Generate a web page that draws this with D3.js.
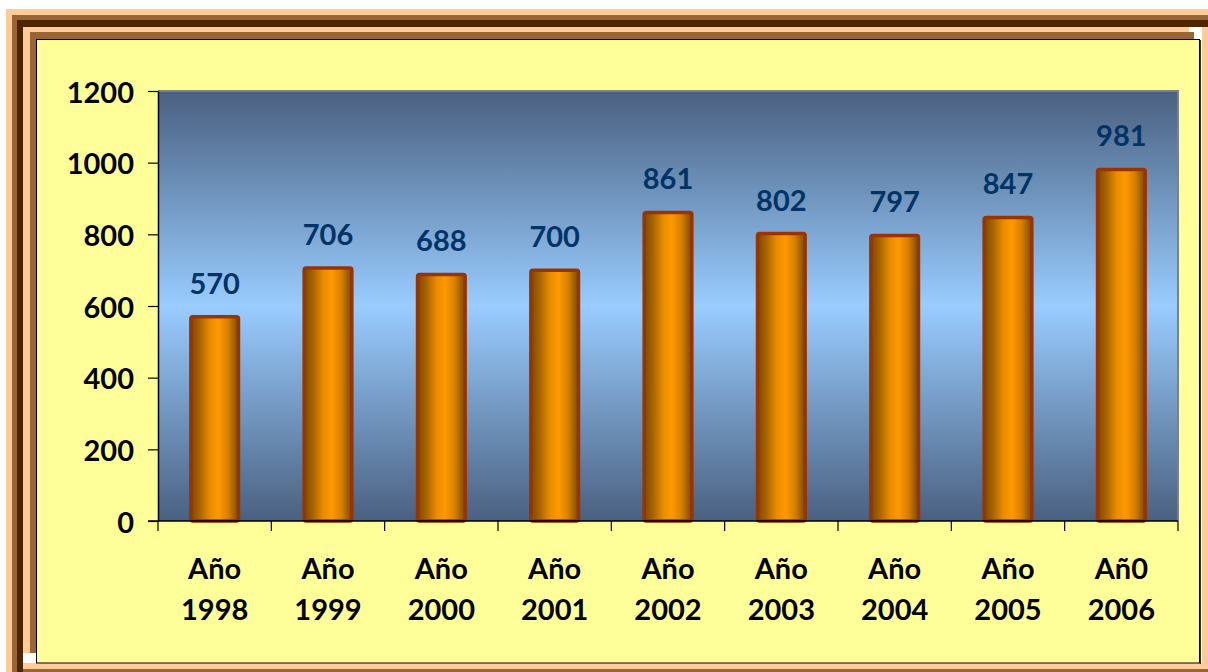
<!DOCTYPE html>
<html>
<head>
<meta charset="utf-8">
<script src="https://cdn.jsdelivr.net/npm/d3@7"></script>
<style>
  html, body { margin: 0; padding: 0; background: #ffffff; }
  svg { display: block; }
  text { font-family: Lato, "DejaVu Sans", sans-serif; font-weight: bold; }
</style>
</head>
<body>
<svg id="chart" width="1208" height="672"></svg>
<script>
// data
const prefixes = ["Año", "Año", "Año", "Año", "Año", "Año", "Año", "Año", "Añ0"];
const years = ["1998", "1999", "2000", "2001", "2002", "2003", "2004", "2005", "2006"];
const values = [570, 706, 688, 700, 861, 802, 797, 847, 981];
const yTicks = [0, 200, 400, 600, 800, 1000, 1200];

const svg = d3.select("#chart");
const W = 1208, H = 672;

// ---- frame (chart area border) ----
const frame = svg.append("g").attr("class", "frame");
frame.append("rect").attr("x", 6).attr("y", 9).attr("width", W - 6).attr("height", H - 9).attr("fill", "#FFCC99");
frame.append("rect").attr("x", 12).attr("y", 15).attr("width", W - 12).attr("height", H - 15).attr("fill", "#996633");
frame.append("rect").attr("x", 17).attr("y", 20).attr("width", W - 17).attr("height", H - 20).attr("fill", "#4D2600");
frame.append("rect").attr("x", 23).attr("y", 27).attr("width", W - 23).attr("height", H - 27).attr("fill", "#ffffff");
// shadow bands on right / bottom
frame.append("rect").attr("x", 1202).attr("y", 27).attr("width", 6).attr("height", H - 27).attr("fill", "#FFCC99");
frame.append("rect").attr("x", 23).attr("y", 663).attr("width", W - 23).attr("height", 9).attr("fill", "#FFCC99");
frame.append("rect").attr("x", 23).attr("y", 669).attr("width", W - 23).attr("height", 3).attr("fill", "#996633");
// inner bands top / left
frame.append("rect").attr("x", 23).attr("y", 27).attr("width", 1166).attr("height", 626).attr("fill", "#FFCC99");
frame.append("rect").attr("x", 30).attr("y", 32).attr("width", 1164).attr("height", 621).attr("fill", "#996633");
// yellow chart area
frame.append("rect").attr("x", 36.5).attr("y", 39.5).attr("width", 1163).attr("height", 623.5)
    .attr("fill", "#FFFF99").attr("stroke", "#000").attr("stroke-width", 1);
frame.append("line").attr("x1", 1200.5).attr("x2", 1200.5).attr("y1", 40).attr("y2", 664)
    .attr("stroke", "#333").attr("stroke-width", 1);

// ---- plot ----
const plot = {left: 158, right: 1178, top: 91, bottom: 521};

const x = d3.scaleBand()
    .domain(years)
    .range([plot.left, plot.right])
    .paddingInner(0.58)
    .paddingOuter(0.29);

const xOuter = d3.scaleBand()
    .domain(years)
    .range([plot.left, plot.right]);

const y = d3.scaleLinear()
    .domain([0, 1200])
    .range([plot.bottom, plot.top]);

const defs = svg.append("defs");

const bg = defs.append("linearGradient").attr("id", "plot-bg")
    .attr("x1", 0).attr("y1", 0).attr("x2", 0).attr("y2", 1);
bg.append("stop").attr("offset", "0%").attr("stop-color", "#4A6080");
bg.append("stop").attr("offset", "50%").attr("stop-color", "#99CCFF");
bg.append("stop").attr("offset", "100%").attr("stop-color", "#4A6080");

const barGrad = defs.append("linearGradient").attr("id", "bar-fill")
    .attr("x1", 0).attr("y1", 0).attr("x2", 1).attr("y2", 0);
barGrad.append("stop").attr("offset", "0%").attr("stop-color", "#7A4A00");
barGrad.append("stop").attr("offset", "18%").attr("stop-color", "#A86200");
barGrad.append("stop").attr("offset", "40%").attr("stop-color", "#E88C00");
barGrad.append("stop").attr("offset", "58%").attr("stop-color", "#FF9900");
barGrad.append("stop").attr("offset", "78%").attr("stop-color", "#D88000");
barGrad.append("stop").attr("offset", "100%").attr("stop-color", "#7A4A00");

svg.append("rect")
    .attr("x", plot.left).attr("y", plot.top)
    .attr("width", plot.right - plot.left).attr("height", plot.bottom - plot.top)
    .attr("fill", "url(#plot-bg)");
// gray border top & right
svg.append("path")
    .attr("d", `M${plot.left},${plot.top}H${plot.right}V${plot.bottom}`)
    .attr("fill", "none").attr("stroke", "#808080").attr("stroke-width", 2);

// bars
svg.append("g").selectAll("rect")
    .data(values)
    .enter().append("rect")
    .attr("x", (d, i) => x(years[i]))
    .attr("y", d => y(d))
    .attr("width", x.bandwidth())
    .attr("height", d => y(0) - y(d))
    .attr("rx", 2)
    .attr("fill", "url(#bar-fill)")
    .attr("stroke", "#993300")
    .attr("stroke-width", 3.5);

// value labels
svg.append("g").selectAll("text")
    .data(values)
    .enter().append("text")
    .attr("x", (d, i) => x(years[i]) + x.bandwidth() / 2)
    .attr("y", d => y(d) - 23)
    .attr("text-anchor", "middle")
    .attr("fill", "#003366")
    .style("font-size", "29px")
    .text(d => d);

// y axis
const yAxis = svg.append("g")
    .attr("transform", `translate(${plot.left},0)`)
    .call(d3.axisLeft(y).tickValues(yTicks).tickFormat(d3.format("d"))
        .tickSize(10).tickSizeOuter(0).tickPadding(14));
yAxis.select(".domain").attr("stroke", "#000").attr("stroke-width", 1.5);
yAxis.selectAll(".tick line").attr("stroke", "#000").attr("stroke-width", 1.2);
yAxis.selectAll(".tick text")
    .attr("fill", "#000")
    .style("font-size", "29px")
    .attr("dy", "0.38em");

// x axis (ticks at category boundaries)
const xAxis = svg.append("g")
    .attr("transform", `translate(0,${plot.bottom})`);
xAxis.append("line")
    .attr("x1", plot.left - 10).attr("x2", plot.right)
    .attr("stroke", "#000").attr("stroke-width", 1.5);
const boundaries = years.map(d => xOuter(d)).concat([plot.right]);
xAxis.selectAll("line.tick")
    .data(boundaries)
    .enter().append("line")
    .attr("class", "tick")
    .attr("x1", d => d).attr("x2", d => d)
    .attr("y1", 0).attr("y2", 10)
    .attr("stroke", "#000").attr("stroke-width", 1.2);

const xLabels = xAxis.selectAll("text")
    .data(years)
    .enter().append("text")
    .attr("text-anchor", "middle")
    .attr("fill", "#000")
    .style("font-size", "29px");
xLabels.append("tspan")
    .attr("x", d => xOuter(d) + xOuter.bandwidth() / 2)
    .attr("y", 58)
    .text((d, i) => prefixes[i]);
xLabels.append("tspan")
    .attr("x", d => xOuter(d) + xOuter.bandwidth() / 2)
    .attr("y", 99)
    .text(d => d);
</script>
</body>
</html>
